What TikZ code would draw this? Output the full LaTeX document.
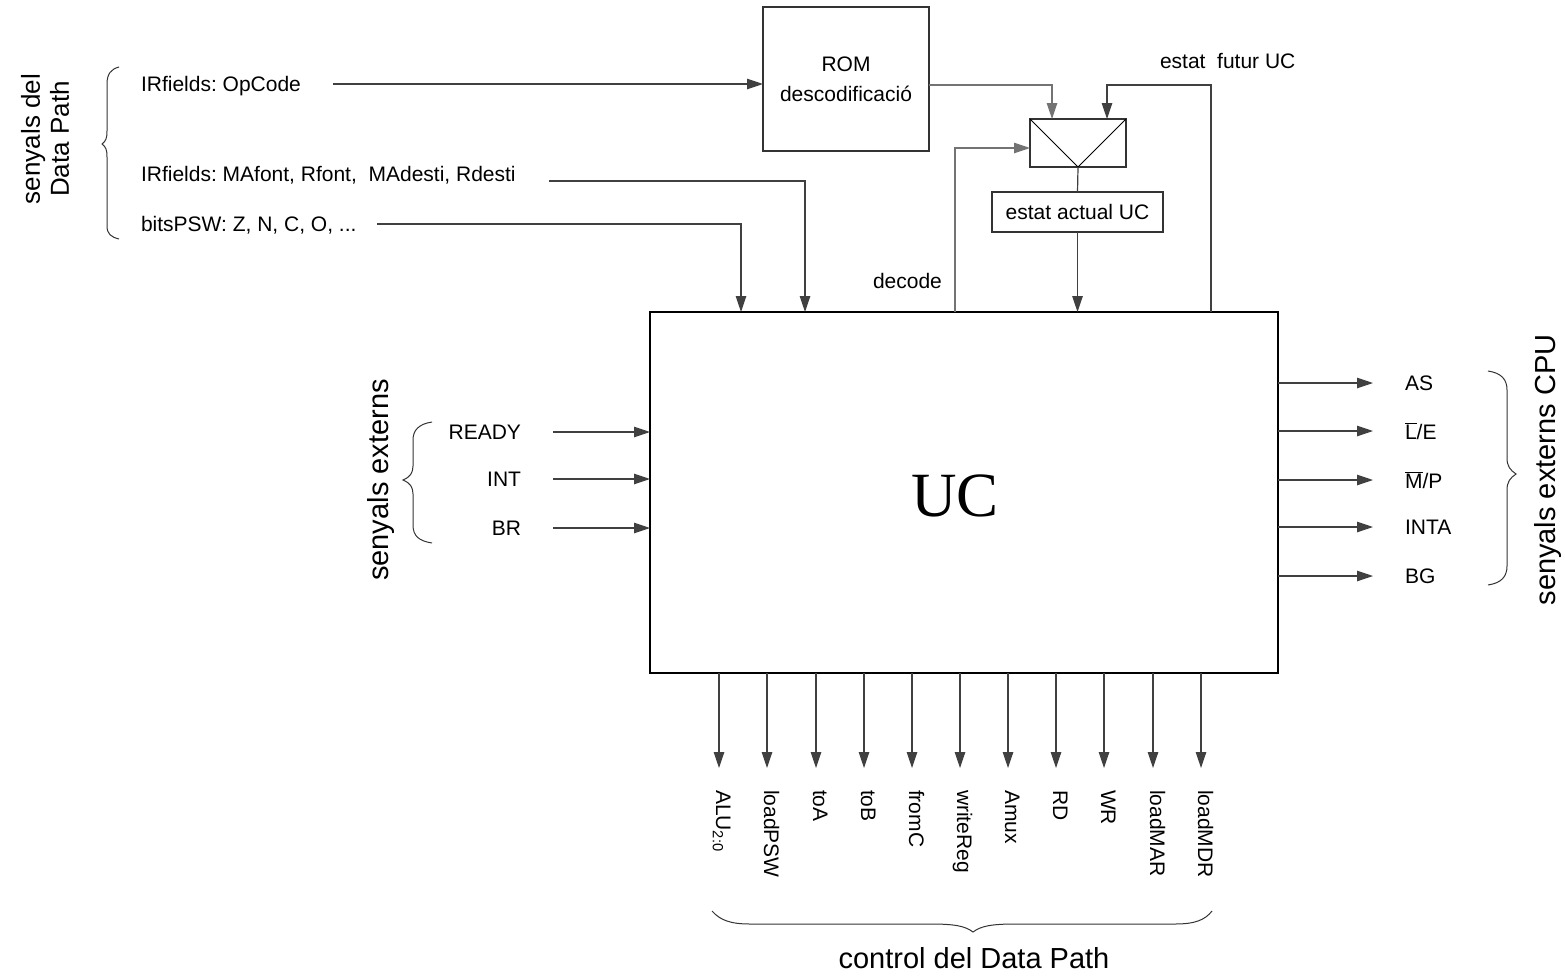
\documentclass[tikz,border=0pt]{standalone}
\usepackage{fontspec}
\setmainfont{Liberation Sans}
\newfontfamily\ucserif{Liberation Serif}
\usetikzlibrary{arrows.meta,calc}
\tikzset{
  lbl/.style={font=\fontsize{21}{25}\selectfont, inner sep=0pt, outer sep=0pt},
  big/.style={font=\fontsize{29}{34}\selectfont, inner sep=0pt, outer sep=0pt},
  box/.style={draw=black!80, line width=1.2pt, inner sep=0pt, outer sep=0pt},
  wire/.style={draw=black!75, line width=1.2pt},
  arr/.style={wire, -{Triangle[length=16pt,width=10.5pt]}},
  gwire/.style={draw=black!55, line width=1.2pt, -{Triangle[length=16pt,width=10.5pt]}},
  brc/.style={draw=black!80, line width=1pt},
}
\frenchspacing
\begin{document}
\frenchspacing
\begin{tikzpicture}[x=1pt,y=-1pt]
\useasboundingbox (0,0) rectangle (1565,977);

% main boxes
\node[box, draw=black, minimum width=628pt, minimum height=361pt, anchor=north west] (uc) at (650,312) {};
\node[inner sep=0pt, font=\ucserif\fontsize{63}{70}\selectfont] (uclbl) at (955,496) {UC};

\node[box, minimum width=166pt, minimum height=144pt, anchor=north west, align=center,
      font=\fontsize{21}{30}\selectfont] (rom) at (763,7) {ROM\\descodificació};

\node[box, minimum width=96pt, minimum height=48pt, anchor=north west] (mux) at (1030,119) {};
\draw[black, line width=1pt] (mux.north west) -- (mux.south) -- (mux.north east);

\node[box, minimum width=171pt, minimum height=40pt, anchor=north west, lbl] (act) at (992,192) {estat actual UC};

% mux and state register
\draw[wire] (mux.south) -- (act.north);
\draw[arr] (act.south) -- (act.south |- uc.north);

% ROM output to mux
\coordinate (romout) at (929,85);
\draw[gwire] (romout) -| ($(mux.north west)+(22,0)$);

% estat futur loop
\coordinate (futS) at (1211,312);
\draw[arr] (futS) -- (1211,85) -| ($(mux.north west)+(77,0)$);
\node[lbl, anchor=base west] (fut) at (1160,68) {estat\ \ futur UC};

% decode loop
\coordinate (decS) at (955,312);
\draw[gwire] (decS) |- ($(mux.north west)+(0,29)$);
\node[lbl, anchor=base west] (dec) at (873,288) {decode};

% data path inputs
\node[lbl, anchor=base west] (opc) at (141,91) {IRfields: OpCode};
\node[lbl, anchor=base west] (maf) at (141,181) {IRfields: MAfont, Rfont,\ \ MAdesti, Rdesti};
\node[lbl, anchor=base west] (psw) at (141,231) {bitsPSW: Z, N, C, O, ...};
\coordinate (opcS) at (333,84);
\coordinate (mafS) at (549,181);
\coordinate (pswS) at (377,224);
\draw[arr] (opcS) -- (opcS -| rom.west);
\draw[arr] (mafS) -| (805,312);
\draw[arr] (pswS) -| (741,312);

\draw[brc] (119,67) .. controls (111,69) and (107,74) .. (107,84) -- (107,131)
  .. controls (107,138) and (106,141) .. (102,144)
  .. controls (106,147) and (107,150) .. (107,157) -- (107,226)
  .. controls (107,234) and (111,237) .. (119,239);
\node[font=\fontsize{26}{29}\selectfont, rotate=90, align=center, inner sep=0pt] (dp) at (45,139) {senyals del\\Data Path};

% external inputs
\foreach \n/\t/\y in {rdy/READY/432, int/INT/479, br/BR/528}{
  \node[lbl, anchor=east] (\n) at (521,\y) {\t};
  \coordinate (\n S) at (553,\y);
  \draw[arr] (\n S) -- (\n S -| uc.west);
}
\draw[brc] (432,422) .. controls (419,424) and (413,430) .. (413,440) -- (413,466)
  .. controls (413,473) and (410,477) .. (403,480)
  .. controls (410,483) and (413,487) .. (413,494) -- (413,525)
  .. controls (413,536) and (419,541) .. (432,543);
\node[big, rotate=90] (ext) at (381,480) {senyals externs};

% external outputs
\foreach \n/\t/\y in {as/AS/383, le/{$\overline{\mbox{L}}$/E}/431, mp/{$\overline{\mbox{M}}$/P}/480, inta/INTA/527, bg/BG/576}{
  \coordinate (\n S) at (1278,\y);
  \coordinate (\n E) at (1373,\y);
  \draw[arr] (\n S) -- (\n E);
  \node[lbl, anchor=west] (\n) at (1405,\y) {\t};
}
\draw[brc] (1488,371) .. controls (1501,373) and (1507,379) .. (1507,390) -- (1507,458)
  .. controls (1507,466) and (1510,470) .. (1516,474)
  .. controls (1510,478) and (1507,482) .. (1507,490) -- (1507,566)
  .. controls (1507,577) and (1501,583) .. (1488,585);
\node[big, rotate=90] (cpu) at (1548,470) {senyals externs CPU};

% control outputs
\foreach \n/\t/\x in {alu/{ALU\textsubscript{2:0}}/719, lpsw/loadPSW/767, toa/toA/816, tob/toB/864, fromc/fromC/912, wreg/writeReg/960, amux/Amux/1008, rd/RD/1056, wr/WR/1104, lmar/loadMAR/1153, lmdr/loadMDR/1201}{
  \coordinate (\n S) at (\x,673);
  \coordinate (\n E) at (\x,768);
  \draw[arr] (\n S) -- (\n E);
  \node[lbl, rotate=-90, anchor=base west] (\n) at (\x-3,790) {\t};
}
\draw[brc] (712,911) .. controls (720,920) and (730,924) .. (750,924) -- (930,924)
  .. controls (955,924) and (965,926) .. (973,932)
  .. controls (981,926) and (991,924) .. (1016,924) -- (1175,924)
  .. controls (1195,924) and (1205,920) .. (1212,911);
\node[big, anchor=base] (cdp) at (974,968) {control del Data Path};
\end{tikzpicture}
\end{document}
